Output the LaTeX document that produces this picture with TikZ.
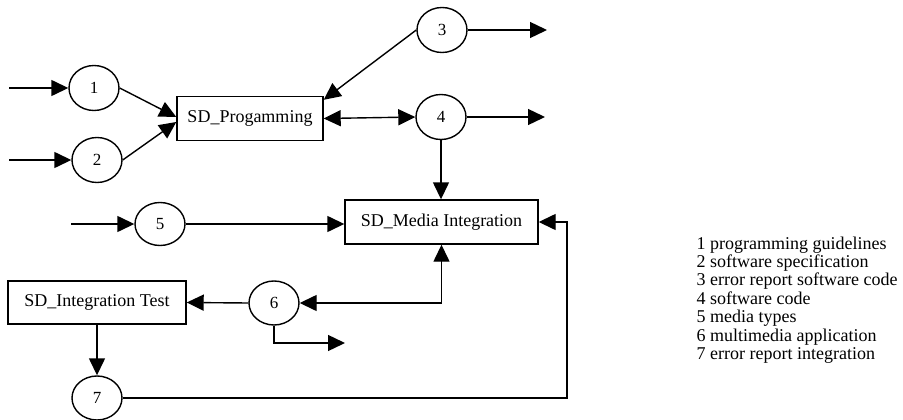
\documentclass[tikz,border=0pt]{standalone}
\usepackage{fontspec}
\setmainfont{Liberation Serif}
\usetikzlibrary{arrows.meta,shapes.geometric,positioning}

\begin{document}
\begin{tikzpicture}[
  x=1pt, y=-1pt,
  line width=1.4pt,
  flow/.style={draw, ellipse, minimum width=50pt, minimum height=45pt, inner sep=0pt, font=\fontsize{17}{19}\selectfont},
  proc/.style={draw, rectangle, minimum height=44pt, inner sep=0pt, font=\fontsize{18}{20}\selectfont},
  arr/.style={-{Triangle[length=17pt, width=16pt]}},
  darr/.style={{Triangle[length=17pt, width=16pt]}-{Triangle[length=17pt, width=16pt]}}
]
\useasboundingbox (0,0) rectangle (903,420);

% processes
\node[proc, minimum width=146pt] (prog) at (250,118.5) {SD\_Progamming};
\node[proc, minimum width=193pt] (media) at (441.5,222) {SD\_Media Integration};
\node[proc, minimum width=178pt, minimum height=43pt] (itest) at (97,302.5) {SD\_Integration Test};

% flows
\node[flow] (c1) at (94,88) {1};
\node[flow] (c2) at (97,160) {2};
\node[flow] (c3) at (442,30) {3};
\node[flow] (c4) at (441,117) {4};
\node[flow, minimum height=43pt] (c5) at (160,224) {5};
\node[flow, minimum height=44pt] (c6) at (274,303) {6};
\node[flow, minimum height=44pt] (c7) at (97,398) {7};

% free ends
\coordinate (in1) at (9,88);
\coordinate (in2) at (9,160);
\coordinate (in5) at (71,224);
\coordinate (out3) at (547,30);
\coordinate (out4) at (545,117);
\coordinate (out6) at (345,343);
\coordinate (loop) at (567,222);

\draw[arr] (in1) -- (c1);
\draw[arr] (in2) -- (c2);
\draw[arr] (c1.east) -- ([yshift=1.5pt]prog.west);
\draw[arr] (c2.east) -- ([yshift=-3.5pt]prog.west);
\draw[arr] (c3.west) -- ([yshift=-4pt]prog.north east);
\draw[arr] (c3.east) -- (out3);
\draw[darr] (prog.east) -- (c4.west);
\draw[arr] (c4.east) -- (out4);
\draw[arr] (c4.south) -- (media.north -| c4.south);
\draw[arr] (in5) -- (c5);
\draw[arr] (c5.east) -- (media.west |- c5.east);
\draw[darr] (c6.east) -| (media.south);
\draw[arr] (c6.west) -- (itest.east);
\draw[arr] (c6.south) |- (out6);
\draw[arr] (itest.south) -- (c7.north);
\draw[arr] (c7.east) -| (loop) -- (media.east);

% legend
\node[anchor=west, align=left, inner sep=0pt, font=\fontsize{18}{18.35}\selectfont] (legend) at (696,300) {1 programming guidelines\\2 software specification\\3 error report software code\\4 software code\\5 media types\\6 multimedia application\\7 error report integration};
\end{tikzpicture}
\end{document}
